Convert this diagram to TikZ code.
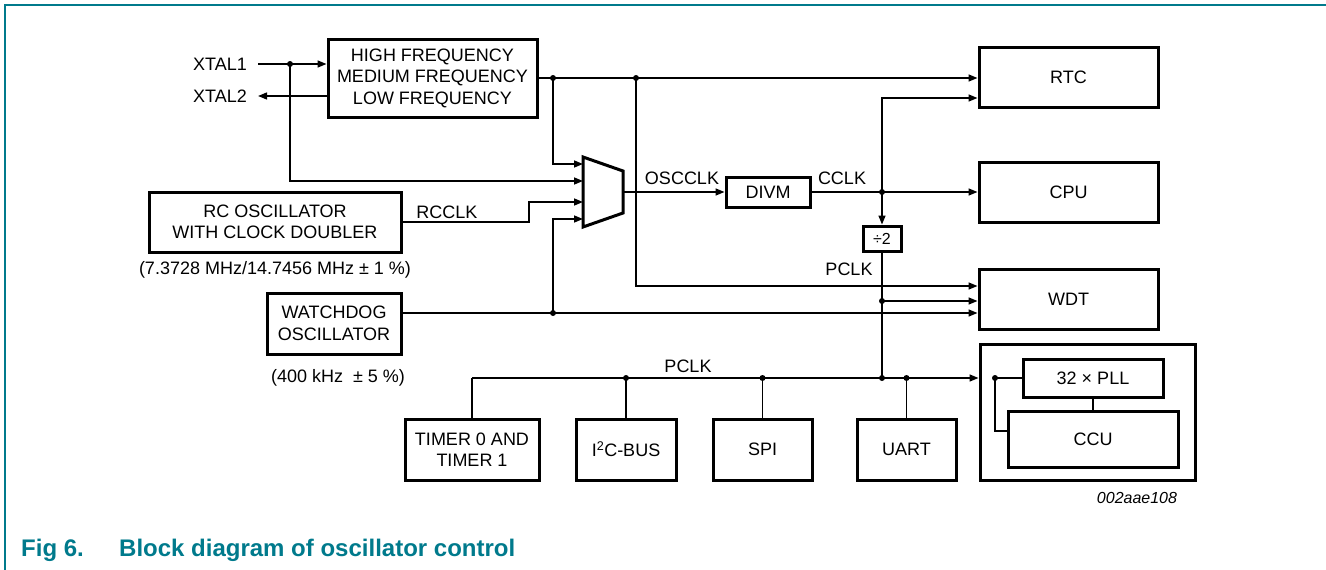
\documentclass[tikz,border=0pt]{standalone}
\usepackage{fontspec}
\setmainfont{Liberation Sans}
\usetikzlibrary{arrows.meta}
\definecolor{nxpteal}{RGB}{0,122,140}
\begin{document}
\begin{tikzpicture}[x=1pt,y=-1pt,
  font=\fontsize{18}{21.5}\selectfont,
  blk/.style={draw,line width=3pt,align=center,inner sep=0pt},
  conn/.style={line width=1.5pt},
  arr/.style={conn,-{Triangle[length=9pt,width=7pt]}},
  jdot/.style={circle,fill,inner sep=0pt,minimum size=6pt},
  lbl/.style={inner sep=0pt}]
\useasboundingbox (0,0) rectangle (1326,570);
% frame
\draw[nxpteal,line width=1.6pt] (5,570) -- (5,5) -- (1326,5);
% blocks
\node[blk,minimum width=209pt,minimum height=78pt] (hf) at (432.5,78) {HIGH FREQUENCY\\MEDIUM FREQUENCY\\LOW FREQUENCY};
\node[blk,minimum width=179pt,minimum height=60pt] (rtc) at (1068.5,77) {RTC};
\node[blk,minimum width=179pt,minimum height=60pt] (cpu) at (1068.5,192) {CPU};
\node[blk,minimum width=179pt,minimum height=60pt] (wdt) at (1068.5,299) {WDT};
\node[blk,minimum width=84pt,minimum height=30pt] (divm) at (768,192) {DIVM};
\node[blk,minimum width=38pt,minimum height=25pt,font=\fontsize{16}{18}\selectfont] (div2) at (882,238.5) {÷2};
\node[blk,minimum width=252pt,minimum height=60pt] (rc) at (275,222) {RC OSCILLATOR\\WITH CLOCK DOUBLER};
\node[blk,minimum width=134pt,minimum height=61pt] (wd) at (334,323.5) {WATCHDOG\\OSCILLATOR};
\node[blk,minimum width=134pt,minimum height=61pt] (tim) at (472,449.5) {TIMER 0 AND\\TIMER 1};
\node[blk,minimum width=100pt,minimum height=61pt] (i2c) at (626,449.5) {I\textsuperscript{2}C-BUS};
\node[blk,minimum width=99pt,minimum height=61pt] (spi) at (762.5,449.5) {SPI};
\node[blk,minimum width=99pt,minimum height=61pt] (uart) at (906.5,449.5) {UART};
\node[blk,minimum width=215pt,minimum height=136pt] (outer) at (1087.5,412) {};
\node[blk,minimum width=140pt,minimum height=38pt] (pll) at (1093,378) {32 × PLL};
\node[blk,minimum width=170pt,minimum height=56pt] (ccu) at (1093,439) {CCU};
% xtal
\node[inner xsep=11pt] (x1) at (220,64) {XTAL1};
\node[inner xsep=11pt] (x2) at (220,96) {XTAL2};
% mux
\coordinate (m1) at (583,164);
\coordinate (m2) at (583,181);
\coordinate (m3) at (583,202);
\coordinate (m4) at (583,219);
\coordinate (mo) at (623,192);
\draw[line width=3pt,line join=miter] (583,157) -- (623,171) -- (623,213) -- (583,227) -- cycle;
% junctions
\coordinate (j1) at (290,64);
\coordinate (jh) at (553,78);
\coordinate (jh2) at (636,78);
\coordinate (jw) at (553,313);
\coordinate (jc) at (882,192);
\coordinate (jd) at (882,301);
\coordinate (jb) at (882,378);
\coordinate (bl) at (472,378);
\coordinate (jp) at (995,378);
% connectors
\draw[arr] (x1.east) -- (hf.west |- x1);
\draw[arr] (hf.west |- x2) -- (x2.east);
\draw[arr] (j1) |- (m2);
\draw[arr] (hf.east) -- (rtc.west |- hf.east);
\draw[arr] (jh) |- (m1);
\draw[arr] (jh2) |- (wdt.west |- 0,286);
\draw[arr] (rc.east) -| (529,202) -- (m3);
\draw[arr] (wd.east |- jw) -- (wdt.west |- jw);
\draw[arr] (jw) |- (m4);
\draw[arr] (mo) -- (divm.west);
\draw[arr] (divm.east) -- (cpu.west);
\draw[arr] (jc) -- (div2.north);
\draw[arr] (jc) -- (882,98) -- (rtc.west |- 0,98);
\draw[conn] (div2.south) -- (jb);
\draw[arr] (jd) -- (wdt.west |- jd);
\draw[conn] (tim.north) -- (bl);
\draw[arr] (bl) -- (outer.west |- bl);
\draw[conn] (i2c.north) -- (i2c.north |- bl);
\draw[conn] (spi.north) -- (spi.north |- bl);
\draw[conn] (uart.north) -- (uart.north |- bl);
\draw[conn] (jp) -- (pll.west);
\draw[conn] (jp) |- (ccu.west |- 0,431);
\draw[conn] (pll.south) -- (ccu.north);
% dots
\foreach \p in {j1,jh,jh2,jw,jc,jd,jb,jp}{\node[jdot] at (\p) {};}
\node[jdot] at (i2c.north |- bl) {};
\node[jdot] at (spi.north |- bl) {};
\node[jdot] at (uart.north |- bl) {};
% labels
\node[lbl] at (682,178) {OSCCLK};
\node[lbl] at (842,178) {CCLK};
\node[lbl] at (447,212) {RCCLK};
\node[lbl] at (849,269) {PCLK};
\node[lbl] at (688,366) {PCLK};
\node[lbl] at (275,270) {(7.3728 MHz/14.7456 MHz ± 1 \%)};
\node[lbl] at (338,378) {(400 kHz\ \ ± 5 \%)};
\node[lbl,font=\fontsize{16}{18}\selectfont\itshape] at (1137,498) {002aae108};
% caption
\node[lbl,anchor=base west,text=nxpteal,font=\fontsize{24}{28}\selectfont\bfseries] at (21,556) {Fig 6.};
\node[lbl,anchor=base west,text=nxpteal,font=\fontsize{24}{28}\selectfont\bfseries] at (119,556) {Block diagram of oscillator control};
\end{tikzpicture}
\end{document}
